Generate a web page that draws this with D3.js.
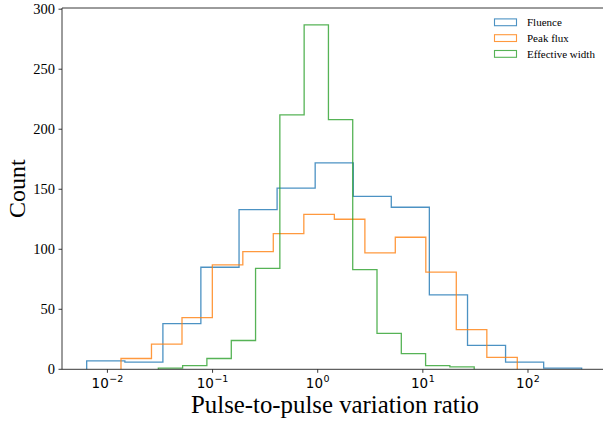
<!DOCTYPE html>
<html>
<head>
<meta charset="utf-8">
<script src="https://cdn.jsdelivr.net/npm/d3@7"></script>
<style>
  body, html { margin: 0; padding: 0; background: #fff; overflow: hidden; }
  svg { display: block; }
</style>
</head>
<body>
<div id="chart"></div>
<script>
// bin edges (log-spaced, one set per series)
var fluenceEdges = [0.00635, 0.01466, 0.0337, 0.0774, 0.1786, 0.411, 0.946, 2.18, 5.01, 11.53, 26.6, 61.2, 141, 324];
var fluenceCounts = [7, 6, 38, 85, 133, 151, 172, 144, 135, 62, 20, 6, 1];

var peakEdges = [0.01346, 0.02624, 0.0512, 0.0995, 0.194, 0.378, 0.738, 1.44, 2.81, 5.47, 10.67, 20.8, 40.6, 79.1];
var peakCounts = [9, 21, 43, 87, 98, 113, 129, 125, 97, 110, 81, 33, 10];

var widthEdges = [0.0305, 0.0519, 0.0883, 0.1507, 0.2564, 0.4365, 0.743, 1.265, 2.153, 3.664, 6.24, 10.62, 18.07, 30.8];
var widthCounts = [1, 3, 9, 24, 84, 212, 287, 208, 83, 30, 13, 3, 2];

var seriesNames = ["Fluence", "Peak flux", "Effective width"];
var seriesColors = ["#1f77b4", "#ff7f0e", "#2ca02c"];
var yTicks = [0, 50, 100, 150, 200, 250, 300];
var xTicks = [-2, -1, 0, 1, 2];

var W = 603, H = 421;
var mLeft = 62, mRight = 608, mTop = 8, mBottom = 369.3;

var svg = d3.select("#chart").append("svg").attr("width", W).attr("height", H);

var x = d3.scaleLog().domain([Math.pow(10, -2.432), Math.pow(10, 2.761)]).range([mLeft, mRight]);
var y = d3.scaleLinear().domain([0, 301]).range([mBottom, mTop]);

var serif = "'Liberation Serif', 'Times New Roman', serif";

function stepPath(edges, counts) {
  var p = d3.path();
  p.moveTo(x(edges[0]), y(0));
  for (var i = 0; i < counts.length; i++) {
    p.lineTo(x(edges[i]), y(counts[i]));
    p.lineTo(x(edges[i + 1]), y(counts[i]));
  }
  p.lineTo(x(edges[edges.length - 1]), y(0));
  return p.toString();
}

var hists = [[fluenceEdges, fluenceCounts], [peakEdges, peakCounts], [widthEdges, widthCounts]];
hists.forEach(function(h, i) {
  svg.append("path")
    .attr("d", stepPath(h[0], h[1]))
    .attr("fill", "none")
    .attr("stroke", seriesColors[i])
    .attr("stroke-width", 1.3)
    .attr("stroke-opacity", 0.8);
});

// spines
svg.append("line").attr("x1", mLeft).attr("x2", mLeft).attr("y1", mTop).attr("y2", mBottom)
  .attr("stroke", "#222").attr("stroke-width", 0.9);
svg.append("line").attr("x1", mLeft).attr("x2", mRight).attr("y1", mBottom).attr("y2", mBottom)
  .attr("stroke", "#222").attr("stroke-width", 0.9);
svg.append("line").attr("x1", mLeft).attr("x2", mRight).attr("y1", mTop).attr("y2", mTop)
  .attr("stroke", "#222").attr("stroke-width", 0.9);

// y ticks
yTicks.forEach(function(t) {
  var yy = y(t);
  svg.append("line").attr("x1", mLeft - 3.5).attr("x2", mLeft).attr("y1", yy).attr("y2", yy)
    .attr("stroke", "#222").attr("stroke-width", 0.9);
  svg.append("text").attr("x", mLeft - 7).attr("y", yy + 4.8)
    .attr("text-anchor", "end").attr("font-family", serif).attr("font-size", 14.5)
    .attr("fill", "#000").text(t);
});

// x ticks: "10" and the exponent as two texts, centred together on the tick
xTicks.forEach(function(e) {
  var xx = x(Math.pow(10, e));
  svg.append("line").attr("x1", xx).attr("x2", xx).attr("y1", mBottom).attr("y2", mBottom + 3.5)
    .attr("stroke", "#222").attr("stroke-width", 0.9);
  var base = svg.append("text").attr("y", 387.5)
    .attr("font-family", "'DejaVu Sans', sans-serif")
    .attr("font-size", 13.5).attr("fill", "#000").text("10");
  var sup = svg.append("text").attr("y", 381.5)
    .attr("font-family", "'DejaVu Sans', sans-serif")
    .attr("font-size", 9.5).attr("fill", "#000").text(String(e).replace("-", "\u2212"));
  var bw = base.node().getComputedTextLength();
  var sw = sup.node().getComputedTextLength();
  var x0 = xx - (bw + sw + 0.5) / 2;
  base.attr("x", x0);
  sup.attr("x", x0 + bw + 0.5);
});

// axis labels
svg.append("text").attr("x", (mLeft + mRight) / 2).attr("y", 412.7)
  .attr("text-anchor", "middle").attr("font-family", serif).attr("font-size", 24.8)
  .attr("fill", "#000").text("Pulse-to-pulse variation ratio");
svg.append("text").attr("transform", "translate(25," + ((mTop + mBottom) / 2) + ") rotate(-90)")
  .attr("text-anchor", "middle").attr("font-family", serif).attr("font-size", 24)
  .attr("fill", "#000").text("Count");

// legend
seriesNames.forEach(function(n, i) {
  var ly = 22.3 + i * 15.8;
  svg.append("rect").attr("x", 494.5).attr("y", ly - 3.4).attr("width", 22).attr("height", 6.8)
    .attr("fill", "none").attr("stroke", seriesColors[i]).attr("stroke-width", 1.1).attr("stroke-opacity", 0.8);
  svg.append("text").attr("x", 527).attr("y", ly + 3.8)
    .attr("font-family", serif).attr("font-size", 11).attr("fill", "#000").text(n);
});
</script>
</body>
</html>
